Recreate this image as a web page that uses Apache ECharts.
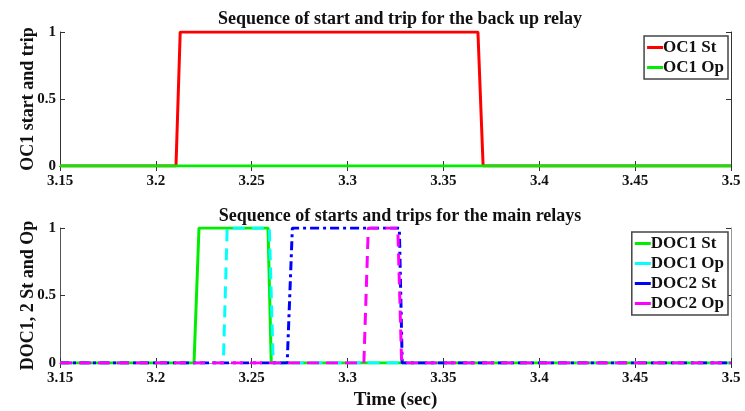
<!DOCTYPE html>
<html><head><meta charset="utf-8">
<script src="https://cdn.jsdelivr.net/npm/echarts@6/dist/echarts.min.js"></script>
<style>html,body{margin:0;padding:0;background:#fff}#c{width:745px;height:411px}</style>
</head><body><div id="c"></div>
<script>
// Top panel: back up relay
const oc1StTime = [3.15, 3.2105, 3.2127, 3.368, 3.3707, 3.5];
const oc1StVal  = [0,    0,      1,      1,     0,      0];
const oc1OpTime = [3.15, 3.5];
const oc1OpVal  = [0,    0];
// Bottom panel: main relays
const doc1StTime = [3.15, 3.2199, 3.2225, 3.2585, 3.2602, 3.5];
const doc1StVal  = [0,    0,      1,      1,      0,      0];
const doc1OpTime = [3.15, 3.2352, 3.2372, 3.2592, 3.2612, 3.5];
const doc1OpVal  = [0,    0,      1,      1,      0,      0];
const doc2StTime = [3.15, 3.2685, 3.2712, 3.327, 3.3285, 3.5];
const doc2StVal  = [0,    0,      1,      1,     0,      0];
const doc2OpTime = [3.15, 3.3085, 3.3108, 3.3262, 3.3282, 3.5];
const doc2OpVal  = [0,    0,      1,      1,      0,      0];
const xTicks = [3.15, 3.2, 3.25, 3.3, 3.35, 3.4, 3.45, 3.5];
const yTicks = [0, 0.5, 1];
const titles = ['Sequence of start and trip for the back up relay', 'Sequence of starts and trips for the main relays'];
const yNames = ['OC1 start and trip', 'DOC1, 2 St and Op'];
const xName = 'Time (sec)';

const pairs = (t, v) => t.map((x, i) => [x, v[i]]);
const FONT = '"Liberation Serif", "DejaVu Serif", serif';
const grids = [
  {left: 60, right: 14, top: 32, height: 134},
  {left: 60, right: 14, top: 228, height: 135}
];
function xAx(gi, pos, labels, name, color) {
  return {
    type: 'value', gridIndex: gi, position: pos, min: xTicks[0], max: xTicks[xTicks.length - 1], interval: 0.05,
    axisLine: {show: true, lineStyle: {color: color, width: 1}},
    axisTick: {show: true, inside: true, length: 5, lineStyle: {color: '#333'}},
    axisLabel: {show: labels, color: '#111', fontFamily: FONT, fontWeight: 'bold', fontSize: 15, margin: 8,
      formatter: v => String(Math.round(v * 100) / 100)},
    splitLine: {show: false},
    name: name, nameLocation: 'middle', nameGap: 28,
    nameTextStyle: {color: '#111', fontFamily: FONT, fontWeight: 'bold', fontSize: 19}
  };
}
function yAx(gi, pos, labels, name, color) {
  return {
    type: 'value', gridIndex: gi, position: pos, min: 0, max: 1, interval: 0.5,
    axisLine: {show: true, lineStyle: {color: color, width: 1}},
    axisTick: {show: true, inside: true, length: 5, lineStyle: {color: '#333'}},
    axisLabel: {show: labels, color: '#111', fontFamily: FONT, fontWeight: 'bold', fontSize: 15, margin: 4,
      formatter: v => String(v)},
    splitLine: {show: false},
    name: name, nameLocation: 'middle', nameGap: 23, nameMoveOverlap: false,
    nameTextStyle: {color: '#111', fontFamily: FONT, fontWeight: 'bold', fontSize: 18}
  };
}
function ser(name, t, v, color, type, xi, yi) {
  return {name: name, type: 'line', data: pairs(t, v), xAxisIndex: xi, yAxisIndex: yi, symbol: 'none',
    lineStyle: {color: color, width: 3, type: type}, itemStyle: {color: color}, animation: false};
}
const legendCommon = {
  orient: 'vertical', backgroundColor: '#fff', borderColor: '#444', borderWidth: 1.5, borderRadius: 0,
  padding: [2, 4, 2, 3], itemGap: 1, itemWidth: 16, itemHeight: 3, icon: 'rect',
  textStyle: {color: '#111', fontFamily: FONT, fontWeight: 'bold', fontSize: 17, padding: [0, 0, 0, -5], lineHeight: 19}
};
const option = {
  backgroundColor: '#fff',
  animation: false,
  title: [
    {text: titles[0], left: 395, top: 5, textAlign: 'center',
     textStyle: {fontFamily: FONT, fontWeight: 'bold', fontSize: 18, color: '#111'}},
    {text: titles[1], left: 395, top: 202, textAlign: 'center',
     textStyle: {fontFamily: FONT, fontWeight: 'bold', fontSize: 18, color: '#111'}}
  ],
  grid: grids,
  xAxis: [xAx(0, 'bottom', true, '', '#333'), xAx(0, 'top', false, '', '#333'),
          xAx(1, 'bottom', true, xName, '#555'), xAx(1, 'top', false, '', '#999')],
  yAxis: [yAx(0, 'left', true, yNames[0], '#333'), yAx(0, 'right', false, '', '#333'),
          yAx(1, 'left', true, yNames[1], '#555'), yAx(1, 'right', false, '', '#999')],
  legend: [
    Object.assign({}, legendCommon, {data: ['OC1 St', 'OC1 Op'], right: 17, top: 36}),
    Object.assign({}, legendCommon, {data: ['DOC1 St', 'DOC1 Op', 'DOC2 St', 'DOC2 Op'], right: 17, top: 232})
  ],
  series: [
    ser('OC1 St', oc1StTime, oc1StVal, '#ff0000', 'solid', 0, 0),
    ser('OC1 Op', oc1OpTime, oc1OpVal, '#00ee00', 'solid', 0, 0),
    ser('DOC1 St', doc1StTime, doc1StVal, '#00ee00', 'solid', 2, 2),
    ser('DOC1 Op', doc1OpTime, doc1OpVal, '#00ffff', [12, 7], 2, 2),
    ser('DOC2 St', doc2StTime, doc2StVal, '#0000ff', [9, 4, 3, 4], 2, 2),
    ser('DOC2 Op', doc2OpTime, doc2OpVal, '#ff00ff', [12, 7], 2, 2)
  ]
};
const chart = echarts.init(document.getElementById('c'), null, {renderer: 'canvas'});
chart.setOption(option);
</script></body></html>
